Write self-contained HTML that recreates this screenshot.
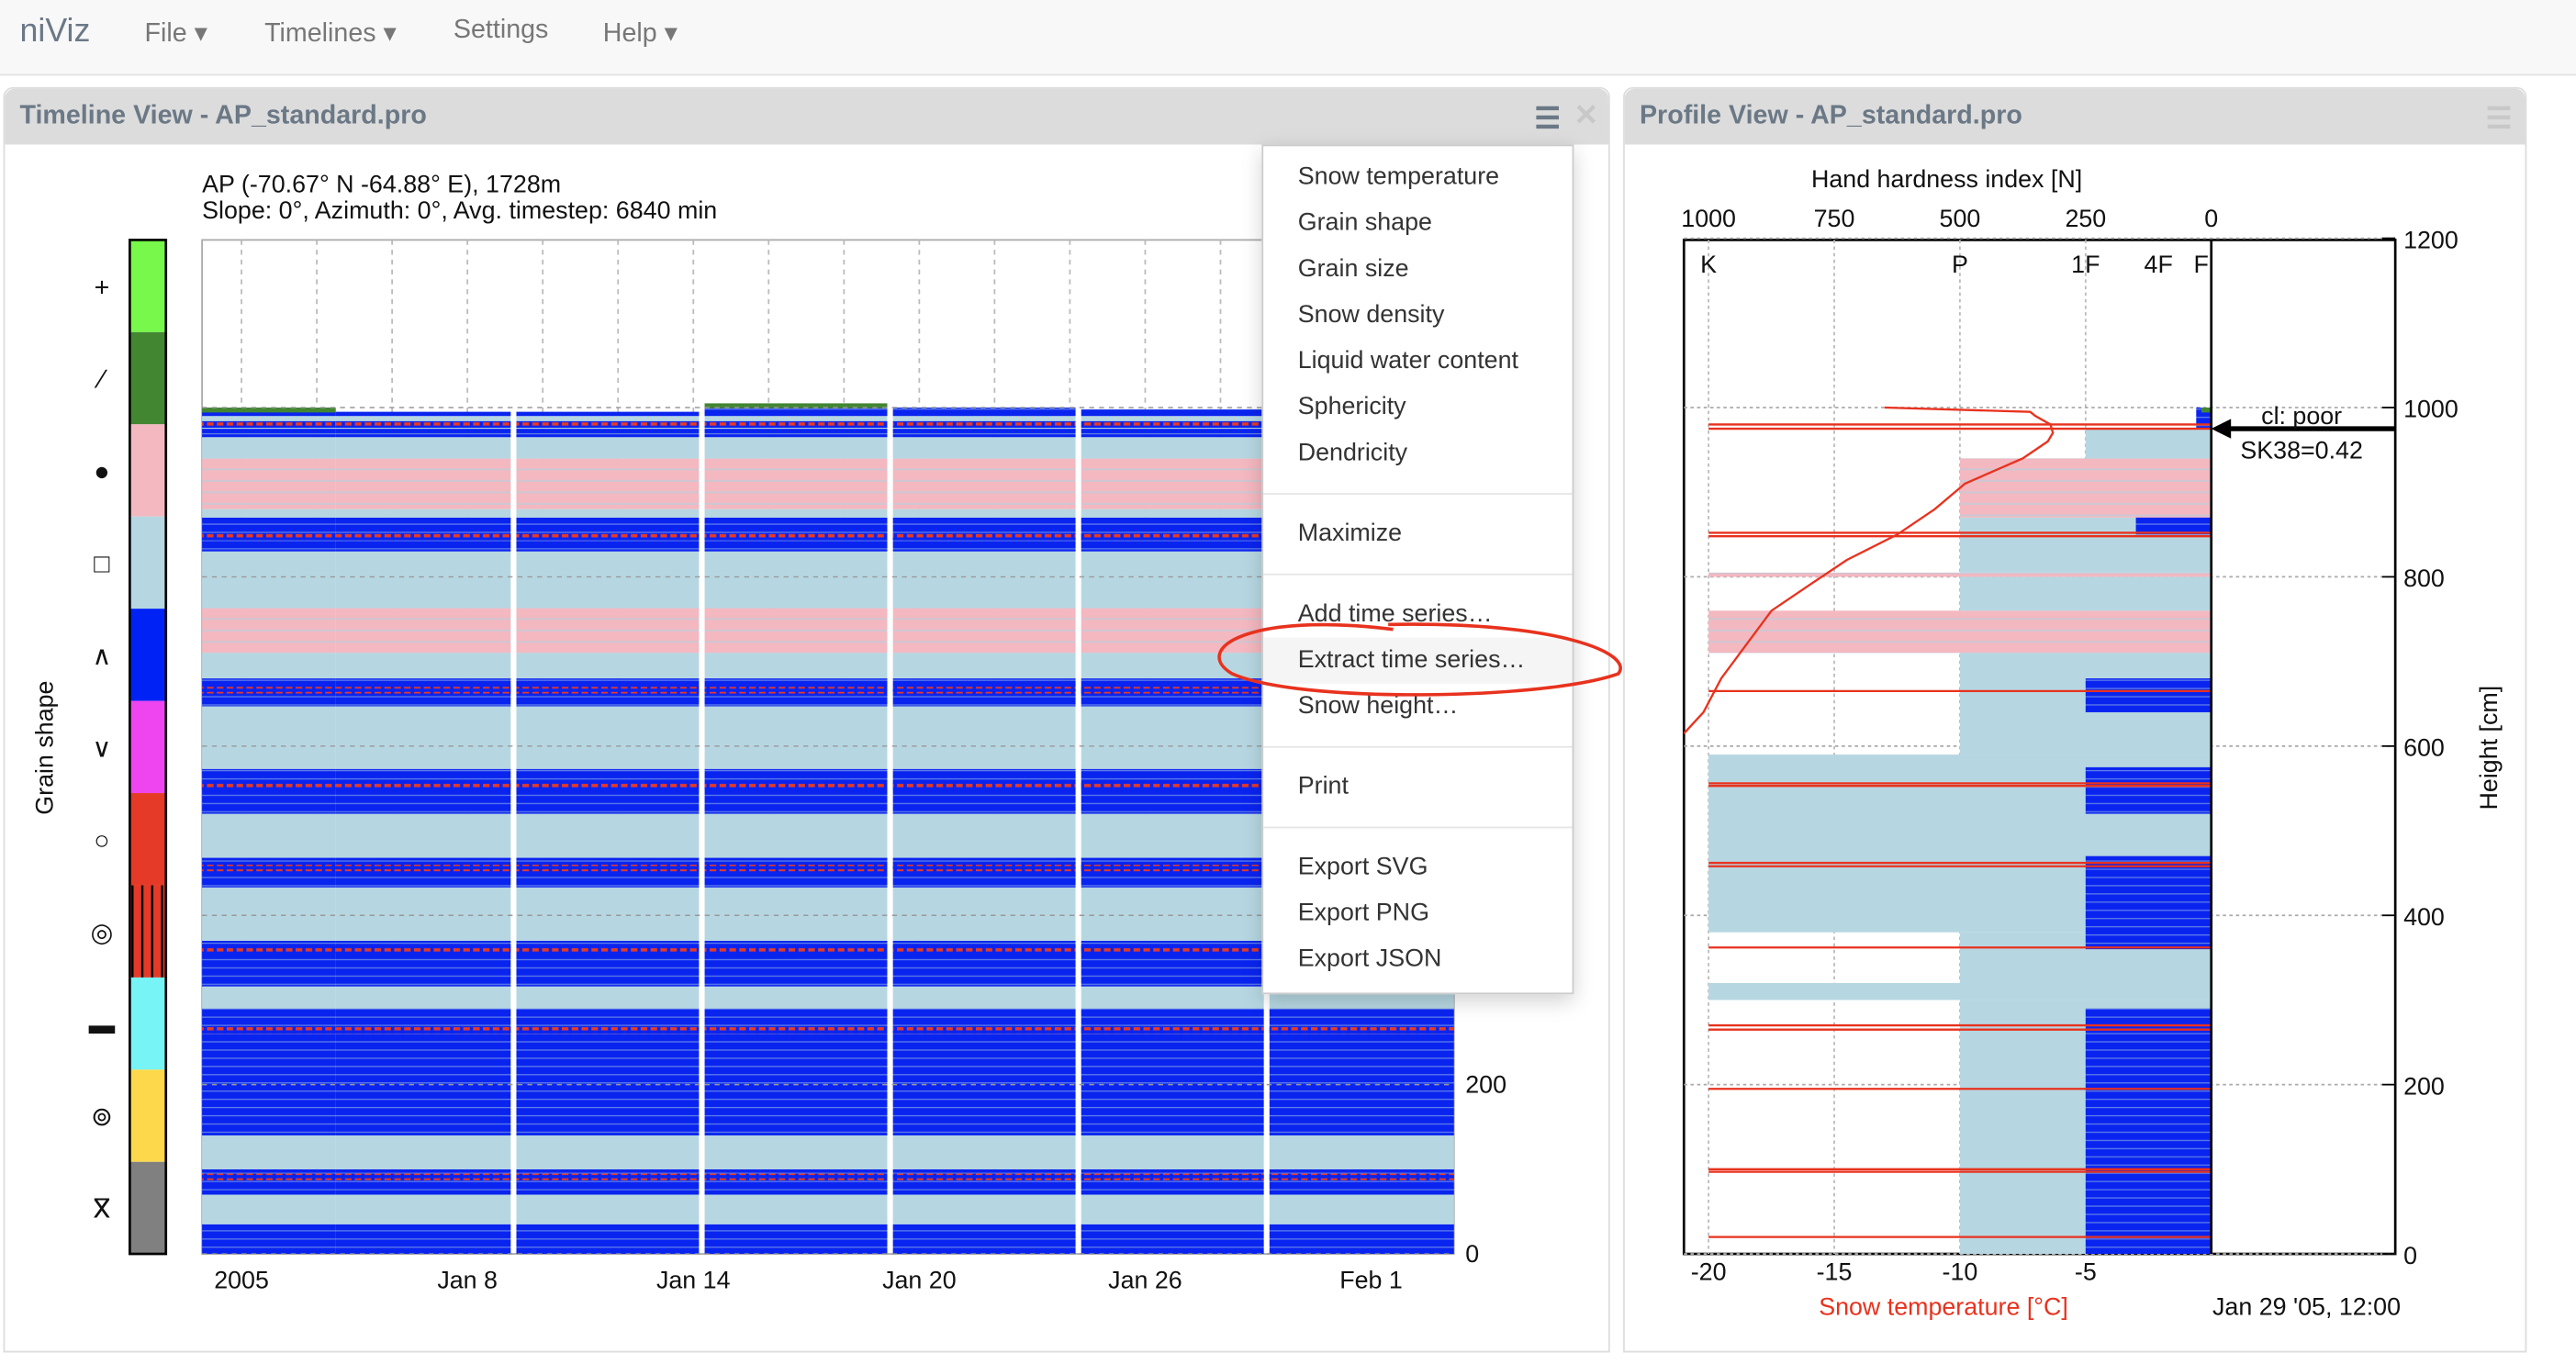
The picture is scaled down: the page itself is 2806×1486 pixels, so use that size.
<!DOCTYPE html>
<html><head><meta charset="utf-8">
<style>
html,body{margin:0;padding:0;background:#fff;overflow:hidden;}
#root{position:absolute;left:0;top:0;width:1568px;height:830px;transform:scale(1.78954,1.79036);transform-origin:0 0;font-family:"Liberation Sans",sans-serif;background:#fff;}
.abs{position:absolute;}
.nav{left:0;top:0;width:1568px;height:45px;background:#f8f8f8;border-bottom:1px solid #e3e3e3;}
.nav span{position:absolute;top:10px;font-size:16px;color:#777;}
.panel{background:#fff;border:1px solid #ddd;border-radius:6px 6px 0 0;}
.phead{position:absolute;left:0;top:0;right:0;height:34px;background:#dcdcdc;border-radius:6px 6px 0 0;}
.ptitle{position:absolute;left:9px;top:8px;font-size:16px;font-weight:bold;color:#6b7886;}
.menu{left:768px;top:88px;width:188px;height:515px;background:#fff;border:1px solid #ccc;box-shadow:0 4px 12px rgba(0,0,0,0.18);}
.mi{position:absolute;left:21px;font-size:15px;color:#333;}
.sep{position:absolute;left:0;right:0;height:1px;background:#e5e5e5;}
</style></head><body>
<div id="root">
<div class="abs nav">
 <span style="left:12px;top:8px;font-size:20px;color:#6b7886">niViz</span>
 <span style="left:88px">File ▾</span>
 <span style="left:161px">Timelines ▾</span>
 <span style="left:276px">Settings</span>
 <span style="left:367px">Help ▾</span>
</div>
<div class="abs panel" style="left:2px;top:53px;width:976px;height:768px">
 <div class="phead"><div class="ptitle">Timeline View - AP_standard.pro</div>
 <div class="abs" style="left:931px;top:8px;font-size:18px;color:#6b7886;font-weight:bold">☰</div>
 <div class="abs" style="left:955px;top:6px;font-size:18px;color:#c8c8c8;font-weight:bold">✕</div></div>
</div>
<div class="abs panel" style="left:988px;top:53px;width:548px;height:768px">
 <div class="phead"><div class="ptitle">Profile View - AP_standard.pro</div>
 <div class="abs" style="left:524px;top:8px;font-size:18px;color:#c8c8c8;font-weight:bold">☰</div></div>
</div>
<svg id="chart" class="abs" style="left:0;top:0" width="1568" height="830" font-family="Liberation Sans, sans-serif">
<defs>
 <pattern id="bluePat" width="10" height="5" patternUnits="userSpaceOnUse"><rect width="10" height="5" fill="#0a24f0"/><rect y="3.6" width="10" height="0.7" fill="#5f7fe8"/></pattern>
 <pattern id="pinkPat" width="10" height="7" patternUnits="userSpaceOnUse"><rect width="10" height="7" fill="#f4b8c0"/><rect y="5" width="10" height="1.2" fill="#cfc6d2"/></pattern>
 <pattern id="crustPat" width="6" height="4" patternUnits="userSpaceOnUse"><rect width="6" height="4" fill="#0a24f0"/><rect width="4" height="2" y="1" fill="#e53a27"/></pattern>
 <pattern id="legLines" width="6" height="10" patternUnits="userSpaceOnUse"><rect width="6" height="10" fill="#e53a27"/><rect x="2" width="1.3" height="10" fill="#000"/></pattern>
</defs>
<g id="tl"></g><g id="pf"></g>
</svg>
<div class="abs" style="left:123px;top:105px;font-size:15px;color:#111;line-height:16px">AP (-70.67° N -64.88° E), 1728m<br>Slope: 0°, Azimuth: 0°, Avg. timestep: 6840 min</div>
<div class="abs menu">
 <div class="mi" style="top:10px">Snow temperature</div>
 <div class="mi" style="top:38px">Grain shape</div>
 <div class="mi" style="top:66px">Grain size</div>
 <div class="mi" style="top:94px">Snow density</div>
 <div class="mi" style="top:122px">Liquid water content</div>
 <div class="mi" style="top:150px">Sphericity</div>
 <div class="mi" style="top:178px">Dendricity</div>
 <div class="sep" style="top:211px"></div>
 <div class="mi" style="top:227px">Maximize</div>
 <div class="sep" style="top:260px"></div>
 <div class="mi" style="top:276px">Add time series…</div>
 <div class="abs" style="left:0;top:299px;width:188px;height:28px;background:#f5f5f5"></div>
 <div class="mi" style="top:304px">Extract time series…</div>
 <div class="mi" style="top:332px">Snow height…</div>
 <div class="sep" style="top:365px"></div>
 <div class="mi" style="top:381px">Print</div>
 <div class="sep" style="top:414px"></div>
 <div class="mi" style="top:430px">Export SVG</div>
 <div class="mi" style="top:458px">Export PNG</div>
 <div class="mi" style="top:486px">Export JSON</div>
</div>
<svg class="abs" style="left:0;top:0;pointer-events:none" width="1568" height="830">
 <path d="M848,383 C760,372 725,395 750,410 C790,428 940,426 985,410 C995,398 950,378 845,380" fill="none" stroke="#e8321e" stroke-width="2"/>
</svg>
</div>
<script>
// ---------- Timeline data ----------
const tlTypes = {lb:'#b6d7e2', bl:'url(#bluePat)', pk:'url(#pinkPat)', dg:'#428632'};
const tlLayerBottoms = [0,35,70,100,140,290,316,370,433,468,520,573,647,680,710,763,830,870,880,940,965,975,990];
const tlLayerTops    = [35,70,100,140,290,316,370,433,468,520,573,647,680,710,763,830,870,880,940,965,975,990,1000];
const tlLayerKinds   = ['bl','lb','bl','lb','bl','lb','bl','lb','bl','lb','bl','lb','bl','lb','pk','lb','bl','lb','pk','lb','bl','lb','bl'];
const tlCrusts = [91,264,360,456,553,666,847,980];
const tlSegStart = [-1.05,2.5,7.3,12.3,17.3,22.3,27.3];
const tlSegEnd   = [2.5,7.15,12.15,17.15,22.15,27.15,32.2];
const tlSegTop   = [1000,995,995,1005,1000,998,995];
const tlDateTicks = [0,6,12,18,24,30];
const tlDateLabels = ['2005','Jan 8','Jan 14','Jan 20','Jan 26','Feb 1'];
const tlHeightTicks = [0,200,400,600,800,1000];
const legendColors = ['#77f84a','#428632','#f4b8c0','#b6d7e2','#0022f5','#ee45f0','#e53a27','url(#legLines)','#76f4f6','#fcd84a','#808080'];
const legendSymbols = ['+','∕','●','□','∧','∨','○','◎','▬','⊚','ⴳ'];
// ---------- Profile data ----------
const pfBottoms  = [0,300,320,380,590,710,760,800,805,870,940,975];
const pfTops     = [300,320,380,590,710,760,800,805,870,940,975,1000];
const pfHardness = [500,1000,500,1000,500,1000,500,1000,500,500,250,30];
const pfKinds    = ['lb','lb','lb','lb','lb','pk','lb','pk','lb','pk','lb','bl'];
const pfBlueBottoms = [0,360,520,640,850];
const pfBlueTops    = [290,470,575,680,870];
const pfBlueHard    = [250,250,250,250,150];
const pfRedLines = [20,97,100,195,265,270,362,458,462,553,556,665,848,852,975,980];
const pfTempHeights = [615,640,680,720,760,790,820,850,880,910,940,960,970,980,990,995,1000];
const pfTempValues  = [-21,-20.2,-19.5,-18.5,-17.5,-16,-14.5,-12.5,-11,-9.8,-7.5,-6.5,-6.3,-6.4,-7,-7.2,-13];
const pfHardTicks = [1000,750,500,250,0];
const pfHardCodes = ['K','P','1F','4F','F'];
const pfHardCodeVals = [1000,500,250,105,20];
const pfTempTicks = [-20,-15,-10,-5];
const pfHeightTicks = [0,200,400,600,800,1000,1200];

const NS='http://www.w3.org/2000/svg';
function mk(parent,tag,attrs,text){const e=document.createElementNS(NS,tag);for(const k in attrs)e.setAttribute(k,attrs[k]);if(text!==undefined)e.textContent=text;parent.appendChild(e);return e;}
const yH = h => 763 - h*0.515;
const tlX = d => 147 + d*22.92;
const tl = document.getElementById('tl');
let r;
r=mk(tl,'rect',{x:123,y:146,width:762,height:617,fill:'#fff',stroke:'#aaa'});


for(let d=0;d<33;d+=2){const x=tlX(d);if(x<124||x>884)continue;
 r=mk(tl,'line',{x1:x,x2:x,y1:146,y2:763,stroke:'#bbb','stroke-dasharray':'3,3'});
 
 }
for(let s=0;s<tlSegStart.length;s++){
 const x0=Math.max(123,tlX(tlSegStart[s])),x1=Math.min(885,tlX(tlSegEnd[s]));
 for(let i=0;i<tlLayerBottoms.length;i++){
  const top=Math.min(tlLayerTops[i],tlSegTop[s]); if(top<=tlLayerBottoms[i])continue;
  r=mk(tl,'rect',{x:x0,y:yH(top),width:x1-x0,height:yH(tlLayerBottoms[i])-yH(top),fill:tlTypes[tlLayerKinds[i]]});
  
  
 }
 if(s===0||s===3){r=mk(tl,'rect',{x:x0,y:yH(tlSegTop[s]),width:x1-x0,height:3,fill:'#428632'});
  
  }
 for(const c of tlCrusts){r=mk(tl,'rect',{x:x0,y:yH(c)-2,width:x1-x0,height:4,fill:'url(#crustPat)'});
  
  }
}
for(const h of tlHeightTicks){r=mk(tl,'line',{x1:123,x2:885,y1:yH(h),y2:yH(h),stroke:'#999','stroke-dasharray':'3,3','stroke-width':0.8});
 
 
 r=mk(tl,'text',{x:892,y:yH(h)+5,'font-size':15,fill:'#111'},String(h));
 
 }
tlDateTicks.forEach((d,i)=>{r=mk(tl,'text',{x:tlX(d),y:784,'font-size':15,'text-anchor':'middle',fill:'#111'},tlDateLabels[i]);
 
 });
legendColors.forEach((c,i)=>{const y0=146+i*56.1;
 r=mk(tl,'rect',{x:79,y:y0,width:22,height:56.1,fill:c});
 
 
 r=mk(tl,'text',{x:62,y:y0+34,'font-size':16,'text-anchor':'middle',fill:'#111'},legendSymbols[i]);
 
 });
r=mk(tl,'rect',{x:79,y:146,width:22,height:617,fill:'none',stroke:'#000','stroke-width':1.5});


r=mk(tl,'text',{x:32,y:455,'font-size':15,'text-anchor':'middle',fill:'#111',transform:'rotate(-90 32 455)'},'Grain shape');



// profile
const pf=document.getElementById('pf');
const hX = n => 1346 - n*0.306;
const tX = t => 1346 + t*15.3;
r=mk(pf,'rect',{x:1025,y:146,width:433,height:617,fill:'#fff',stroke:'#000','stroke-width':1.5});


for(const n of pfHardTicks){if(n===0)continue;r=mk(pf,'line',{x1:hX(n),x2:hX(n),y1:146,y2:763,stroke:'#bbb','stroke-dasharray':'2,2'});
 
 }
for(const h of pfHeightTicks){r=mk(pf,'line',{x1:1025,x2:1458,y1:yH(h),y2:yH(h),stroke:'#aaa','stroke-dasharray':'2,2'});
 
 
 r=mk(pf,'line',{x1:1450,x2:1458,y1:yH(h),y2:yH(h),stroke:'#000'});
 r=mk(pf,'text',{x:1463,y:yH(h)+6,'font-size':15,fill:'#111'},String(h));
 
 }
for(let i=0;i<pfBottoms.length;i++){
 r=mk(pf,'rect',{x:hX(pfHardness[i]),y:yH(pfTops[i]),width:pfHardness[i]*0.306,height:(pfTops[i]-pfBottoms[i])*0.515,fill:tlTypes[pfKinds[i]]});
 
 }
for(let i=0;i<pfBlueBottoms.length;i++){
 r=mk(pf,'rect',{x:hX(pfBlueHard[i]),y:yH(pfBlueTops[i]),width:pfBlueHard[i]*0.306,height:(pfBlueTops[i]-pfBlueBottoms[i])*0.515,fill:'url(#bluePat)'});
 
 }
for(const h of pfRedLines){r=mk(pf,'line',{x1:hX(1000),x2:1346,y1:yH(h),y2:yH(h),stroke:'#e8321e','stroke-width':1.3});
 
 }
r=mk(pf,'rect',{x:1340,y:yH(1000),width:6,height:3,fill:'#428632'});
let d='';pfTempHeights.forEach((h,i)=>{d+=(i?'L':'M')+Math.max(1025,tX(pfTempValues[i])).toFixed(1)+','+yH(h).toFixed(1);});
r=mk(pf,'path',{d:d,fill:'none',stroke:'#e8321e','stroke-width':1.3});


r=mk(pf,'line',{x1:1346,x2:1346,y1:146,y2:763,stroke:'#000','stroke-width':1.5});
pfHardTicks.forEach(n=>{r=mk(pf,'text',{x:hX(n),y:138,'font-size':15,'text-anchor':'middle',fill:'#111'},String(n));
 
 });
pfHardCodes.forEach((c,i)=>{r=mk(pf,'text',{x:hX(pfHardCodeVals[i]),y:166,'font-size':15,'text-anchor':'middle',fill:'#111'},c);
 
 });
pfTempTicks.forEach(t=>{r=mk(pf,'text',{x:tX(t),y:779,'font-size':15,'text-anchor':'middle',fill:'#111'},String(t));
 
 });
r=mk(pf,'text',{x:1185,y:114,'font-size':15,'text-anchor':'middle',fill:'#111'},'Hand hardness index [N]');


r=mk(pf,'text',{x:1183,y:800,'font-size':15,'text-anchor':'middle',fill:'#e8321e'},'Snow temperature [°C]');


r=mk(pf,'text',{x:1404,y:800,'font-size':15,'text-anchor':'middle',fill:'#111'},"Jan 29 '05, 12:00");


r=mk(pf,'text',{x:1520,y:455,'font-size':15,'text-anchor':'middle',fill:'#111',transform:'rotate(-90 1520 455)'},'Height [cm]');


r=mk(pf,'line',{x1:1458,x2:1356,y1:yH(975),y2:yH(975),stroke:'#000','stroke-width':3});


r=mk(pf,'path',{d:`M1346,${yH(975)} l12,-6 l0,12 z`,fill:'#000'});
r=mk(pf,'text',{x:1401,y:258,'font-size':15,'text-anchor':'middle',fill:'#111'},'cl: poor');


r=mk(pf,'text',{x:1401,y:279,'font-size':15,'text-anchor':'middle',fill:'#111'},'SK38=0.42');


</script>
</body></html>
